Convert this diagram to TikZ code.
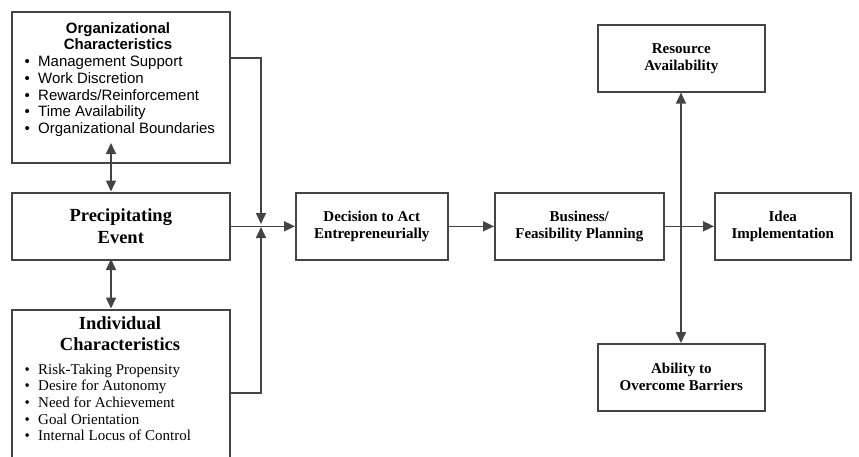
\documentclass[tikz,border=0pt]{standalone}
\usepackage{fontspec}
\setmainfont{Liberation Serif}
\newfontfamily\arialf{Liberation Sans}
\usetikzlibrary{arrows.meta}
\definecolor{ln}{HTML}{444444}
\begin{document}
\begin{tikzpicture}[x=1pt,y=-1pt,
  box/.style={draw=ln,line width=1.6pt,inner sep=0pt,anchor=north west,fill=white},
  conn/.style={draw=ln,line width=1.6pt},
  tipend/.style={-{Triangle[length=11pt,width=10pt]}},
  tipboth/.style={{Triangle[length=11pt,width=10pt]}-{Triangle[length=11pt,width=10pt]}},
  smalltxt/.style={font=\bfseries\fontsize{15}{17}\selectfont,align=center,text=black},
  bigtxt/.style={font=\bfseries\fontsize{18.5}{21.5}\selectfont,align=center,text=black},
  bl/.style={inner sep=0pt,anchor=north west,align=left}]
\useasboundingbox (0,0) rectangle (859,456);
\begin{scope}
\clip (0,0) rectangle (859,456);
% boxes
\node[box,minimum width=218pt,minimum height=151pt] (org) at (11,11) {};
\node[box,minimum width=218pt,minimum height=67pt] (prec) at (11,192) {};
\node[box,minimum width=218pt,minimum height=170pt] (ind) at (11,309) {};
\node[box,minimum width=152pt,minimum height=67pt] (dec) at (295,192) {};
\node[box,minimum width=169pt,minimum height=67pt] (bus) at (494,192) {};
\node[box,minimum width=136pt,minimum height=67pt] (idea) at (714,192) {};
\node[box,minimum width=167pt,minimum height=67pt] (res) at (597,24) {};
\node[box,minimum width=167pt,minimum height=67pt] (abl) at (597,343) {};
\end{scope}
% texts
\node[inner sep=0pt,anchor=north,align=center,font=\arialf\bfseries\fontsize{15}{16.7}\selectfont] (orgtitle) at (118,22) {Organizational\\Characteristics};
\node[bl,font=\arialf\fontsize{15}{16.7}\selectfont] (orglist) at (24.5,56) {%
\makebox[13.5pt][l]{\textbullet}Management Support\\
\makebox[13.5pt][l]{\textbullet}Work Discretion\\
\makebox[13.5pt][l]{\textbullet}Rewards/Reinforcement\\
\makebox[13.5pt][l]{\textbullet}Time Availability\\
\makebox[13.5pt][l]{\textbullet}Organizational Boundaries};
\node[bigtxt] (prectxt) at (prec.center) {Precipitating\\Event};
\node[inner sep=0pt,anchor=north,align=center,font=\bfseries\fontsize{18.5}{21.7}\selectfont] (indtitle) at (120,316) {Individual\\Characteristics};
\node[bl,font=\fontsize{15}{16.7}\selectfont] (indlist) at (24.5,363.5) {%
\makebox[13.5pt][l]{\textbullet}Risk-Taking Propensity\\
\makebox[13.5pt][l]{\textbullet}Desire for Autonomy\\
\makebox[13.5pt][l]{\textbullet}Need for Achievement\\
\makebox[13.5pt][l]{\textbullet}Goal Orientation\\
\makebox[13.5pt][l]{\textbullet}Internal Locus of Control};
\node[smalltxt] (dectxt) at (dec.center) {Decision to Act\\Entrepreneurially};
\node[smalltxt] (bustxt) at (bus.center) {Business/\\Feasibility Planning};
\node[smalltxt] (ideatxt) at (idea.center) {Idea\\Implementation};
\node[smalltxt] (restxt) at (res.center) {Resource\\Availability};
\node[smalltxt] (abltxt) at (abl.center) {Ability to\\Overcome Barriers};
% coordinates
\coordinate (Jtop) at (261,224);
\coordinate (Jbot) at (261,227);
\coordinate (orgout) at (229,58);
\coordinate (indout) at (229,393);
\coordinate (up1) at (111,143);
\coordinate (dn1) at (111,191.5);
\coordinate (up2) at (111,259);
\coordinate (dn2) at (111,308.5);
\coordinate (vx) at (681,0);
% connectors
\draw[conn,tipend] (orgout) -| (Jtop);
\draw[conn,tipend] (indout) -| (Jbot);
\draw[conn,tipend] (prec.east) -- (dec.west);
\draw[conn,tipend] (dec.east) -- (bus.west);
\draw[conn,tipend] (bus.east) -- (idea.west);
\draw[conn,tipboth] (up1) -- (dn1);
\draw[conn,tipboth] (up2) -- (dn2);
\draw[conn,tipboth] (res.south -| vx) -- (abl.north -| vx);
\end{tikzpicture}
\end{document}
